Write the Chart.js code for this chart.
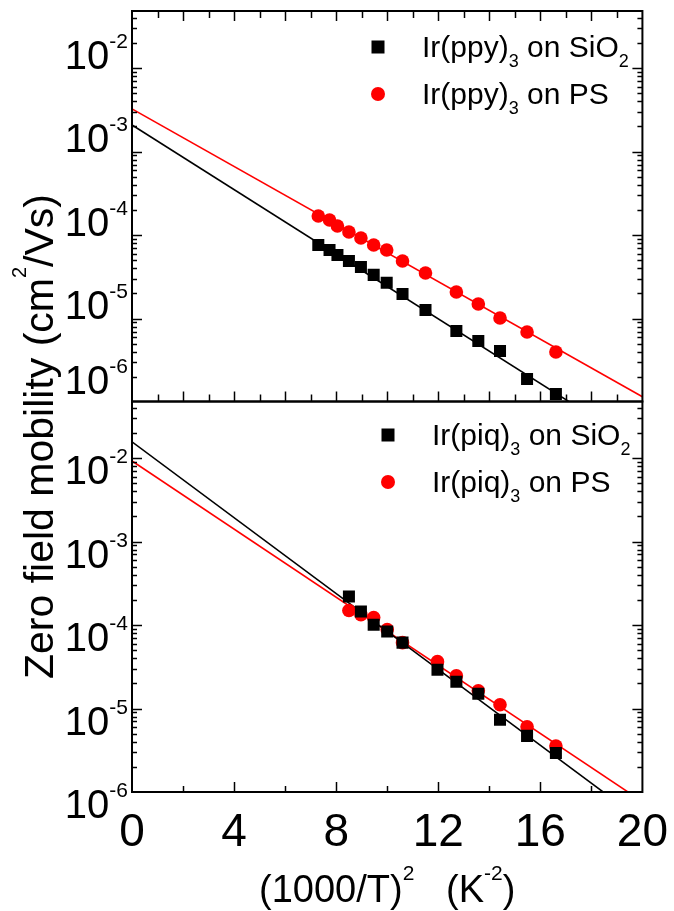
<!DOCTYPE html>
<html>
<head>
<meta charset="utf-8">
<script src="https://cdn.jsdelivr.net/npm/chart.js@4/dist/chart.umd.min.js"></script>
<style>
  html, body { margin: 0; padding: 0; background: #fff; }
</style>
</head>
<body>
<canvas id="canvas" width="674" height="911"></canvas>
<script>
const FONT = "'Liberation Sans', Arial, sans-serif"

// x = (1000/T)^2 in K^-2, y = zero field mobility in cm2/Vs
const ppyX = [7.3, 7.74, 8.05, 8.5, 8.97, 9.47, 9.98, 10.6, 11.5, 12.71, 13.57, 14.42, 15.48, 16.61]
const ppySiO2 = [3.81e-5, 3.32e-5, 2.89e-5, 2.45e-5, 2.08e-5, 1.67e-5, 1.34e-5, 9.86e-6, 6.34e-6, 3.55e-6, 2.70e-6, 2.05e-6, 9.46e-7, 6.25e-7]
const ppyPS = [8.47e-5, 7.59e-5, 6.43e-5, 5.45e-5, 4.62e-5, 3.81e-5, 3.32e-5, 2.45e-5, 1.76e-5, 1.04e-5, 7.48e-6, 5.09e-6, 3.46e-6, 1.99e-6]

const piqX = [8.5, 8.97, 9.47, 10.0, 10.6, 11.97, 12.71, 13.57, 14.42, 15.48, 16.61]
const piqSiO2 = [2.19e-4, 1.45e-4, 1.01e-4, 8.34e-5, 6.15e-5, 2.92e-5, 2.09e-5, 1.50e-5, 7.31e-6, 4.70e-6, 2.94e-6]
const piqPS = [1.49e-4, 1.33e-4, 1.23e-4, 8.81e-5, 6.15e-5, 3.64e-5, 2.47e-5, 1.63e-5, 1.11e-5, 6.03e-6, 3.56e-6]

// straight fits (log y vs x), ends at x = 0 and x = 20
const fitX = [0, 20]
const ppySiO2Fit = [1.04e-3, 1.41e-7]
const ppyPSFit = [1.62e-3, 5.81e-7]
const piqSiO2Fit = [1.56e-2, 4.48e-7]
const piqPSFit = [9.22e-3, 7.67e-7]

const seriesNames = ['Ir(ppy)3 on SiO2', 'Ir(ppy)3 on PS', 'Ir(piq)3 on SiO2', 'Ir(piq)3 on PS']

const xTicks = [0, 4, 8, 12, 16, 20]
const yTickExps = [-6, -5, -4, -3, -2]
const topRange = [5.09e-7, 2.41e-2]
const botRange = [1e-6, 4.75e-2]

const pts = (xs, ys) => xs.map((x, i) => ({ x: x, y: ys[i] }))

// split "Ir(ppy)3 on SiO2" into normal text and subscript digits
function subParts(s, size, subSize) {
  return s.split(/(\d)/).filter(t => t).map(t => /\d/.test(t) ? [t, subSize, -10] : [t, size, 0])
}

function drawRich(ctx, parts, x, y, align) {
  let w = 0
  for (const p of parts) { ctx.font = p[1] + 'px ' + FONT; w += ctx.measureText(p[0]).width }
  if (align === 'center') x -= w / 2
  if (align === 'right') x -= w
  ctx.textAlign = 'left'
  ctx.textBaseline = 'alphabetic'
  for (const p of parts) {
    ctx.font = p[1] + 'px ' + FONT
    ctx.fillText(p[0], x, y - p[2])
    x += ctx.measureText(p[0]).width
  }
}

function line(ctx, x1, y1, x2, y2) {
  ctx.beginPath(); ctx.moveTo(x1, y1); ctx.lineTo(x2, y2); ctx.stroke()
}

// tick marks of a log panel; base 5 for the upper panel
function yTicksMarks(ctx, scale, base, left, right) {
  for (let e = -8; e <= 0; e++) {
    for (let k = 1; k <= 9; k++) {
      const v = base * k * Math.pow(10, e)
      if (v <= scale.min * 1.001 || v >= scale.max * 0.999) continue
      const y = Math.round(scale.getPixelForValue(v)) + 0.5
      const len = k === 1 ? 10 : 5
      line(ctx, left, y, left + len, y)
      line(ctx, right, y, right - len, y)
    }
  }
}

function yLabels(ctx, scale, clampBottom) {
  ctx.fillStyle = '#000'
  for (const e of yTickExps) {
    const y0 = scale.getPixelForValue(Math.pow(10, e))
    let base = y0 + 26
    if (clampBottom && base > scale.bottom - 8) base = scale.bottom - 8
    ctx.font = '21px ' + FONT
    const supW = ctx.measureText(String(e)).width
    drawRich(ctx, [['10', 40, 0]], 128 - supW, base, 'right')
    drawRich(ctx, [[String(e), 21, 21]], 128 - supW, base, 'left')
  }
}

function legend(ctx, x, y, names, colors, styles) {
  names.forEach((n, i) => {
    const cy = y + i * 47
    ctx.fillStyle = colors[i]
    if (styles[i] === 'rect') ctx.fillRect(x - 6.5, cy - 6.5, 13, 13)
    else { ctx.beginPath(); ctx.arc(x, cy, 7, 0, Math.PI * 2); ctx.fill() }
    ctx.fillStyle = '#000'
    drawRich(ctx, subParts(n, 30, 18), x + 44, cy + 10, 'left')
  })
}

const frame = {
  id: 'frame',
  afterDraw(chart) {
    const ctx = chart.ctx
    const xs = chart.scales.x
    const yt = chart.scales.yTop
    const yb = chart.scales.yBot
    const L = chart.chartArea.left, R = chart.chartArea.right
    ctx.save()
    ctx.strokeStyle = '#000'
    ctx.lineWidth = 1.5
    yTicksMarks(ctx, yt, 5, L, R)
    yTicksMarks(ctx, yb, 1, L, R)
    for (let v = 1; v < 20; v++) {
      const x = Math.round(xs.getPixelForValue(v)) + 0.5
      const len = v % 2 === 0 ? 10 : 7
      line(ctx, x, yt.top, x, yt.top + len)
      line(ctx, x, yt.bottom, x, yt.bottom - len)
      if (v % 2 === 0) line(ctx, x, yb.bottom, x, yb.bottom - (v % 4 === 0 ? 10 : 6))
    }
    ctx.lineWidth = 2
    ctx.strokeRect(L, yt.top, R - L, yt.bottom - yt.top)
    ctx.strokeRect(L, yb.top, R - L, yb.bottom - yb.top)

    yLabels(ctx, yt, true)
    yLabels(ctx, yb, false)

    legend(ctx, 378, 47, seriesNames.slice(0, 2), ['#000', '#ff0000'], ['rect', 'circle'])
    legend(ctx, 388, 435, seriesNames.slice(2), ['#000', '#ff0000'], ['rect', 'circle'])

    ctx.fillStyle = '#000'
    drawRich(ctx, [['(1000/T)', 38, 0], ['2', 21, 22], ['   (K', 38, 0], ['-2', 21, 22], [')', 38, 0]],
      (L + R) / 2, 902, 'center')

    ctx.translate(53, 436.5)
    ctx.rotate(-Math.PI / 2)
    drawRich(ctx, [['Zero field mobility (cm', 41, 0], ['2', 20, 27], ['/Vs)', 41, 0]], 0, 0, 'center')
    ctx.restore()
  }
}

const black = '#000000'
const red = '#ff0000'

const data = {
  datasets: [
    { label: seriesNames[0], data: pts(ppyX, ppySiO2), yAxisID: 'yTop', pointStyle: 'rect', pointRadius: 8.5, backgroundColor: black, borderWidth: 0 },
    { label: seriesNames[1], data: pts(ppyX, ppyPS), yAxisID: 'yTop', pointStyle: 'circle', pointRadius: 6.8, backgroundColor: red, borderWidth: 0 },
    { label: seriesNames[2], data: pts(piqX, piqSiO2), yAxisID: 'yBot', pointStyle: 'rect', pointRadius: 8.5, backgroundColor: black, borderWidth: 0 },
    { label: seriesNames[3], data: pts(piqX, piqPS), yAxisID: 'yBot', pointStyle: 'circle', pointRadius: 6.8, backgroundColor: red, borderWidth: 0 },
    { label: 'fit', data: pts(fitX, ppySiO2Fit), yAxisID: 'yTop', showLine: true, pointRadius: 0, borderColor: black, borderWidth: 1.6 },
    { label: 'fit', data: pts(fitX, ppyPSFit), yAxisID: 'yTop', showLine: true, pointRadius: 0, borderColor: red, borderWidth: 1.6 },
    { label: 'fit', data: pts(fitX, piqSiO2Fit), yAxisID: 'yBot', showLine: true, pointRadius: 0, borderColor: black, borderWidth: 1.6 },
    { label: 'fit', data: pts(fitX, piqPSFit), yAxisID: 'yBot', showLine: true, pointRadius: 0, borderColor: red, borderWidth: 1.6 },
  ],
}

const hidden = { grid: { display: false }, border: { display: false } }

const config = {
  type: 'scatter',
  data: data,
  options: {
    responsive: false,
    animation: false,
    devicePixelRatio: 1,
    layout: { padding: { top: 11, right: 29, left: 0, bottom: 0 } },
    plugins: { legend: { display: false }, tooltip: { enabled: false } },
    scales: {
      x: {
        type: 'linear', position: 'bottom', min: 0, max: 20,
        ...hidden,
        afterBuildTicks: s => { s.ticks = xTicks.map(v => ({ value: v })) },
        afterFit: s => { s.height = 119 },
        ticks: { color: '#000', font: { family: FONT, size: 46 }, padding: 6, maxRotation: 0, autoSkip: false },
      },
      yBot: {
        type: 'logarithmic', position: 'left', stack: 'mob', stackWeight: 1,
        min: botRange[0], max: botRange[1],
        ...hidden, ticks: { display: false },
        afterFit: s => { s.width = 132 },
      },
      yTop: {
        type: 'logarithmic', position: 'left', stack: 'mob', stackWeight: 1,
        min: topRange[0], max: topRange[1],
        ...hidden, ticks: { display: false },
        afterFit: s => { s.width = 132 },
      },
    },
  },
  plugins: [frame],
}

const canvas = document.getElementById('canvas')
const chart = new Chart(canvas, config)
</script>
</body>
</html>
